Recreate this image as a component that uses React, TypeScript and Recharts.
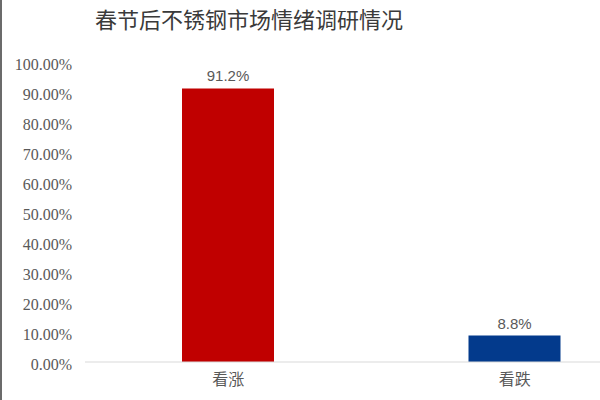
import React from 'react';
import { BarChart, Bar, XAxis, YAxis, Cell, LabelList } from 'recharts';

const categories = ['看涨', '看跌'];
const values = [0.912, 0.088];
const colors = ['#C00000', '#033A8C'];
const yTicks = [0, 0.1, 0.2, 0.3, 0.4, 0.5, 0.6, 0.7, 0.8, 0.9, 1.0];
const title = '春节后不锈钢市场情绪调研情况';

const data = categories.map((name, i) => ({ name, value: values[i] }));

export default function App() {
  return (
    <div
      style={{
        position: 'fixed',
        left: 0,
        top: 0,
        width: 600,
        height: 400,
        overflow: 'hidden',
        background: '#fff',
        borderLeft: '2px solid #6b6b6b',
        boxSizing: 'border-box',
      }}
    >
      <div
        style={{
          position: 'absolute',
          left: 0,
          top: 4,
          width: 494,
          textAlign: 'center',
          fontFamily: '"Noto Sans CJK SC", sans-serif',
          fontSize: 22,
          color: '#3a3a3a',
          lineHeight: '28px',
        }}
      >
        {title}
      </div>
      <div style={{ position: 'absolute', left: -2, top: 0 }}>
        <BarChart
          width={658}
          height={400}
          data={data}
          margin={{ top: 62, right: 0, bottom: 0, left: 0 }}
        >
          <XAxis
            dataKey="name"
            height={38}
            axisLine={{ stroke: '#d9d9d9' }}
            tickLine={false}
            tickSize={0}
            tickMargin={12}
            tick={{
              fill: '#595959',
              fontSize: 16,
              fontFamily: '"Noto Sans CJK SC", sans-serif',
            }}
          />
          <YAxis
            type="number"
            domain={[0, 1]}
            ticks={yTicks}
            interval={0}
            width={85}
            axisLine={false}
            tickLine={false}
            tickSize={0}
            tickMargin={13}
            tickFormatter={(v: number) => (v * 100).toFixed(2) + '%'}
            tick={{
              fill: '#595959',
              fontSize: 16,
              fontFamily: '"Liberation Serif", serif',
              dy: 2,
            }}
          />
          <Bar dataKey="value" barSize={92} isAnimationActive={false}>
            {data.map((d, i) => (
              <Cell key={d.name} fill={colors[i]} />
            ))}
            <LabelList
              dataKey="value"
              position="top"
              offset={7}
              formatter={(v: number) => (v * 100).toFixed(1) + '%'}
              style={{
                fill: '#595959',
                fontSize: 15,
                fontFamily: '"Liberation Sans", Arial, sans-serif',
              }}
            />
          </Bar>
        </BarChart>
      </div>
    </div>
  );
}
